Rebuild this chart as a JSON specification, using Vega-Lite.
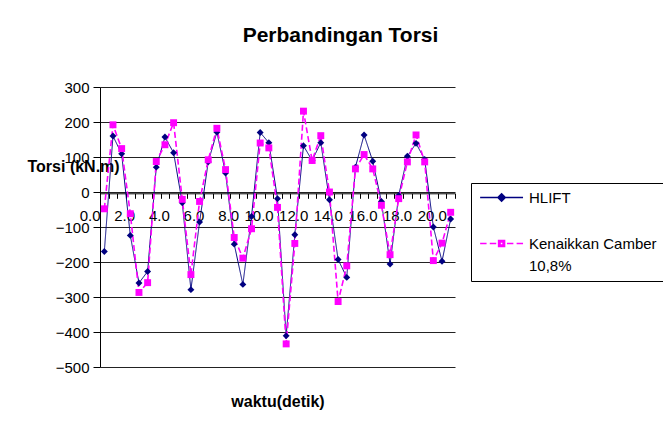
{
  "$schema": "https://vega.github.io/schema/vega-lite/v6.json",
  "autosize": {"type": "none"},
  "padding": {"left": 100, "top": 87, "right": 208, "bottom": 54},
  "width": 355,
  "height": 280,
  "background": "white",
  "title": {
    "text": "Perbandingan Torsi",
    "font": "Liberation Sans",
    "fontSize": 21,
    "fontWeight": "bold",
    "color": "black",
    "anchor": "middle",
    "frame": "group",
    "dx": 63,
    "baseline": "alphabetic",
    "offset": 17
  },
  "config": {
    "view": {"stroke": null},
    "style": {"guide-label": {"lineHeight": 22}},
    "legend": {
      "orient": "none",
      "legendX": 371,
      "legendY": 96,
      "title": null,
      "strokeColor": "black",
      "fillColor": "white",
      "padding": 7,
      "rowPadding": 30,
      "labelOffset": 36,
      "labelFont": "Liberation Sans",
      "labelFontSize": 15,
      "labelColor": "black",
      "labelBaseline": "middle",
      "labelLimit": 300,
      "symbolSize": 115,
      "symbolStrokeWidth": 1.5,
      "symbolOpacity": 1
    }
  },
  "datasets": {
    "torsi": [
      {"t": 0.0, "series": "HLIFT", "value": -170},
      {"t": 0.5, "series": "HLIFT", "value": 160},
      {"t": 1.0, "series": "HLIFT", "value": 109},
      {"t": 1.5, "series": "HLIFT", "value": -124},
      {"t": 2.0, "series": "HLIFT", "value": -260},
      {"t": 2.5, "series": "HLIFT", "value": -227},
      {"t": 3.0, "series": "HLIFT", "value": 71},
      {"t": 3.5, "series": "HLIFT", "value": 157},
      {"t": 4.0, "series": "HLIFT", "value": 112},
      {"t": 4.5, "series": "HLIFT", "value": -31},
      {"t": 5.0, "series": "HLIFT", "value": -279},
      {"t": 5.5, "series": "HLIFT", "value": -86},
      {"t": 6.0, "series": "HLIFT", "value": 86},
      {"t": 6.5, "series": "HLIFT", "value": 171},
      {"t": 7.0, "series": "HLIFT", "value": 54},
      {"t": 7.5, "series": "HLIFT", "value": -149},
      {"t": 8.0, "series": "HLIFT", "value": -264},
      {"t": 8.5, "series": "HLIFT", "value": -70},
      {"t": 9.0, "series": "HLIFT", "value": 170},
      {"t": 9.5, "series": "HLIFT", "value": 141},
      {"t": 10.0, "series": "HLIFT", "value": -19},
      {"t": 10.5, "series": "HLIFT", "value": -411},
      {"t": 11.0, "series": "HLIFT", "value": -122},
      {"t": 11.5, "series": "HLIFT", "value": 132},
      {"t": 12.0, "series": "HLIFT", "value": 90},
      {"t": 12.5, "series": "HLIFT", "value": 141},
      {"t": 13.0, "series": "HLIFT", "value": -22},
      {"t": 13.5, "series": "HLIFT", "value": -193},
      {"t": 14.0, "series": "HLIFT", "value": -244},
      {"t": 14.5, "series": "HLIFT", "value": 71},
      {"t": 15.0, "series": "HLIFT", "value": 163},
      {"t": 15.5, "series": "HLIFT", "value": 88},
      {"t": 16.0, "series": "HLIFT", "value": -27},
      {"t": 16.5, "series": "HLIFT", "value": -206},
      {"t": 17.0, "series": "HLIFT", "value": -10},
      {"t": 17.5, "series": "HLIFT", "value": 102},
      {"t": 18.0, "series": "HLIFT", "value": 139},
      {"t": 18.5, "series": "HLIFT", "value": 93},
      {"t": 19.0, "series": "HLIFT", "value": -100},
      {"t": 19.5, "series": "HLIFT", "value": -198},
      {"t": 20.0, "series": "HLIFT", "value": -77},
      {"t": 0.0, "series": "Kenaikkan Camber 10,8%", "value": -48},
      {"t": 0.5, "series": "Kenaikkan Camber 10,8%", "value": 192},
      {"t": 1.0, "series": "Kenaikkan Camber 10,8%", "value": 124},
      {"t": 1.5, "series": "Kenaikkan Camber 10,8%", "value": -62},
      {"t": 2.0, "series": "Kenaikkan Camber 10,8%", "value": -287},
      {"t": 2.5, "series": "Kenaikkan Camber 10,8%", "value": -259},
      {"t": 3.0, "series": "Kenaikkan Camber 10,8%", "value": 87},
      {"t": 3.5, "series": "Kenaikkan Camber 10,8%", "value": 135},
      {"t": 4.0, "series": "Kenaikkan Camber 10,8%", "value": 198},
      {"t": 4.5, "series": "Kenaikkan Camber 10,8%", "value": -21},
      {"t": 5.0, "series": "Kenaikkan Camber 10,8%", "value": -236},
      {"t": 5.5, "series": "Kenaikkan Camber 10,8%", "value": -27},
      {"t": 6.0, "series": "Kenaikkan Camber 10,8%", "value": 92},
      {"t": 6.5, "series": "Kenaikkan Camber 10,8%", "value": 182},
      {"t": 7.0, "series": "Kenaikkan Camber 10,8%", "value": 64},
      {"t": 7.5, "series": "Kenaikkan Camber 10,8%", "value": -130},
      {"t": 8.0, "series": "Kenaikkan Camber 10,8%", "value": -189},
      {"t": 8.5, "series": "Kenaikkan Camber 10,8%", "value": -105},
      {"t": 9.0, "series": "Kenaikkan Camber 10,8%", "value": 140},
      {"t": 9.5, "series": "Kenaikkan Camber 10,8%", "value": 126},
      {"t": 10.0, "series": "Kenaikkan Camber 10,8%", "value": -44},
      {"t": 10.5, "series": "Kenaikkan Camber 10,8%", "value": -434},
      {"t": 11.0, "series": "Kenaikkan Camber 10,8%", "value": -147},
      {"t": 11.5, "series": "Kenaikkan Camber 10,8%", "value": 231},
      {"t": 12.0, "series": "Kenaikkan Camber 10,8%", "value": 90},
      {"t": 12.5, "series": "Kenaikkan Camber 10,8%", "value": 161},
      {"t": 13.0, "series": "Kenaikkan Camber 10,8%", "value": 0},
      {"t": 13.5, "series": "Kenaikkan Camber 10,8%", "value": -313},
      {"t": 14.0, "series": "Kenaikkan Camber 10,8%", "value": -211},
      {"t": 14.5, "series": "Kenaikkan Camber 10,8%", "value": 66},
      {"t": 15.0, "series": "Kenaikkan Camber 10,8%", "value": 107},
      {"t": 15.5, "series": "Kenaikkan Camber 10,8%", "value": 66},
      {"t": 16.0, "series": "Kenaikkan Camber 10,8%", "value": -38},
      {"t": 16.5, "series": "Kenaikkan Camber 10,8%", "value": -179},
      {"t": 17.0, "series": "Kenaikkan Camber 10,8%", "value": -19},
      {"t": 17.5, "series": "Kenaikkan Camber 10,8%", "value": 86},
      {"t": 18.0, "series": "Kenaikkan Camber 10,8%", "value": 163},
      {"t": 18.5, "series": "Kenaikkan Camber 10,8%", "value": 86},
      {"t": 19.0, "series": "Kenaikkan Camber 10,8%", "value": -196},
      {"t": 19.5, "series": "Kenaikkan Camber 10,8%", "value": -146},
      {"t": 20.0, "series": "Kenaikkan Camber 10,8%", "value": -58}
    ]
  },
  "encoding": {
    "x": {
      "field": "t",
      "type": "quantitative",
      "scale": {"domain": [-0.25, 20.25], "nice": false, "zero": false},
      "axis": {
        "orient": "bottom",
        "offset": -173.7,
        "values": [-0.25, 0.25, 0.75, 1.25, 1.75, 2.25, 2.75, 3.25, 3.75, 4.25, 4.75, 5.25, 5.75, 6.25, 6.75, 7.25, 7.75, 8.25, 8.75, 9.25, 9.75, 10.25, 10.75, 11.25, 11.75, 12.25, 12.75, 13.25, 13.75, 14.25, 14.75, 15.25, 15.75, 16.25, 16.75, 17.25, 17.75, 18.25, 18.75, 19.25, 19.75, 20.25],
        "labelExpr": "(round((datum.value + 0.25) * 2) % 4 == 0) ? format(datum.value + 0.25, '.1f') : ''",
        "labelOverlap": false,
        "labelFlush": false,
        "labelAlign": "right",
        "labelBaseline": "top",
        "labelPadding": 10,
        "labelFont": "Liberation Sans",
        "labelFontSize": 15,
        "labelColor": "black",
        "tickSize": 5,
        "tickColor": "black",
        "domainColor": "black",
        "grid": false,
        "title": "waktu(detik)",
        "titleFont": "Liberation Sans",
        "titleFontSize": 16,
        "titleFontWeight": "bold",
        "titleColor": "black",
        "titleBaseline": "alphabetic",
        "titleY": 213
      }
    },
    "y": {
      "field": "value",
      "type": "quantitative",
      "scale": {"domain": [-500, 300], "nice": false},
      "axis": {
        "values": [-500, -400, -300, -200, -100, 0, 100, 200, 300],
        "format": "d",
        "labelOverlap": false,
        "labelFont": "Liberation Sans",
        "labelFontSize": 15,
        "labelColor": "black",
        "labelPadding": 4,
        "tickSize": 7,
        "tickColor": "black",
        "domainColor": "black",
        "grid": true,
        "gridColor": "#222222",
        "gridOpacity": 1,
        "title": "Torsi (kN.m)",
        "titleFont": "Liberation Sans",
        "titleFontSize": 16,
        "titleFontWeight": "bold",
        "titleColor": "black",
        "titleAngle": 0,
        "titleAlign": "left",
        "titleBaseline": "middle",
        "titleX": -73,
        "titleY": 79
      }
    }
  },
  "layer": [
    {
      "data": {"name": "torsi"},
      "mark": {"type": "line", "clip": false},
      "encoding": {
        "color": {
          "field": "series",
          "type": "nominal",
          "scale": {"domain": ["HLIFT", "Kenaikkan Camber 10,8%"], "range": ["#000080", "#FF00FF"]},
          "legend": null
        },
        "strokeDash": {
          "field": "series",
          "type": "nominal",
          "scale": {"domain": ["HLIFT", "Kenaikkan Camber 10,8%"], "range": [[1, 0], [6, 3]]},
          "legend": null
        },
        "strokeWidth": {
          "field": "series",
          "type": "nominal",
          "scale": {"domain": ["HLIFT", "Kenaikkan Camber 10,8%"], "range": [1, 1.6]},
          "legend": null
        }
      }
    },
    {
      "data": {"name": "torsi"},
      "mark": {"type": "point", "filled": true, "opacity": 1, "size": 48, "clip": false},
      "encoding": {
        "color": {
          "field": "series",
          "type": "nominal",
          "scale": {"domain": ["HLIFT", "Kenaikkan Camber 10,8%"], "range": ["#000080", "#FF00FF"]},
          "legend": null
        },
        "shape": {
          "field": "series",
          "type": "nominal",
          "scale": {"domain": ["HLIFT", "Kenaikkan Camber 10,8%"], "range": ["diamond", "square"]},
          "legend": null
        }
      }
    },
    {
      "data": {"values": []},
      "mark": {"type": "point", "filled": false, "strokeWidth": 1.5},
      "encoding": {
        "color": {
          "field": "series",
          "type": "nominal",
          "scale": {"domain": ["HLIFT", "Kenaikkan Camber 10,8%"], "range": ["#000080", "#FF00FF"]},
          "legend": {
            "labelExpr": "datum.label == 'Kenaikkan Camber 10,8%' ? ['Kenaikkan Camber', '10,8%'] : datum.label"
          }
        },
        "shape": {
          "field": "series",
          "type": "nominal",
          "scale": {
            "domain": ["HLIFT", "Kenaikkan Camber 10,8%"],
            "range": [
              "M-1,0H7M3,-0.69L3.69,0L3,0.69L2.31,0ZM3,-0.35L3.35,0L3,0.35L2.65,0Z",
              "M-1,0H0.2M0.8,0H2M4,0H5.2M5.8,0H7M2.44,-0.56H3.56V0.56H2.44ZM2.72,-0.28H3.28V0.28H2.72Z"
            ]
          },
          "legend": {
            "labelExpr": "datum.label == 'Kenaikkan Camber 10,8%' ? ['Kenaikkan Camber', '10,8%'] : datum.label"
          }
        }
      }
    }
  ],
  "resolve": {"scale": {"shape": "independent", "color": "independent"}}
}
